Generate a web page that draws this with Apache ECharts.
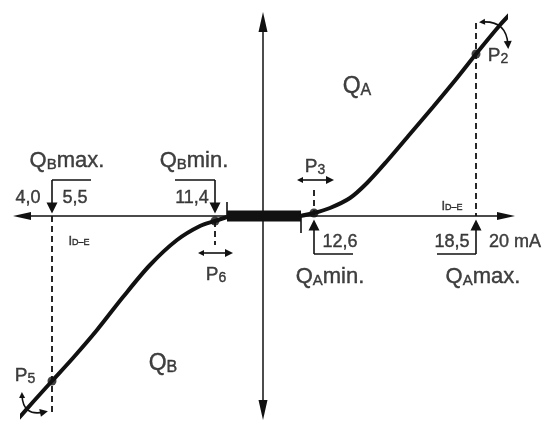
<!DOCTYPE html>
<html>
<head>
<meta charset="utf-8">
<script src="https://cdn.jsdelivr.net/npm/echarts@6/dist/echarts.min.js"></script>
<style>
html, body { margin: 0; padding: 0; background: #fff; }
#main { width: 558px; height: 421px; }
</style>
</head>
<body>
<div id="main"></div>
<script>
// diagram units: 1 unit = 1 px, origin where the two axes cross
var curveLeft = [[-245,-203],[-230,-186],[-211,-165],[-190,-142],[-166,-114],[-140,-81],[-113,-49],[-86,-24],[-63,-10],[-48,-5],[-36,-1]];
var curveRight = [[37,0],[51,3],[67,8],[87,18],[104,33],[124,55],[147,82],[170,109],[194,138],[213,162],[237,191],[250,205]];
var deadBand = [[-36,0],[38,0]];
var pointPts = [[213,162],[51,3],[-211,-165],[-48,-5]];
var dashLines = [[[-211,0],[-211,-196]], [[213,193],[213,0]], [[51,26],[51,3]], [[-48,-5],[-48,-29]]];
var bracketLines = [[[-172,36],[-211,36]], [[-88,36],[-48,36]], [[90,-38],[51,-38]], [[174,-38],[213,-38]],
                    [[-36,0],[-36,14]], [[38,0],[38,-17]]];
var arrowLines = [[[-211,36],[-211,8]], [[-48,36],[-48,8]], [[51,-38],[51,-9]], [[213,-38],[213,-9]]];
var shiftArrows = [[[37,36],[67,36]], [[-62,-37],[-34,-37]]];
var turnP2 = [[219,194],[245,171]];
var turnP5 = [[-241,-179],[-219,-196]];
var labelPos = [[-196,55],[-69,55],[-235,18],[-188,18],[-71,18],[77,-26],[189,-26],[252,-26],[67,-61],[220,-61],
                [94,129],[-100,-148],[235,160],[52,49],[-238,-160],[-47,-59],[189,10],[-184,-25]];
var labelText = ['{q|Q}{qs|B}{q|max.}','{q|Q}{qs|B}{q|min.}','{n|4,0}','{n|5,5}','{n|11,4}','{n|12,6}','{n|18,5}','{n|20 mA}',
                 '{q|Q}{qs|A}{q|min.}','{q|Q}{qs|A}{q|max.}','{b|Q}{bs|A}','{b|Q}{bs|B}','{p|P}{ps|2}','{p|P}{ps|3}','{p|P}{ps|5}','{p|P}{ps|6}',
                 '{i|I}{is|D–E}','{i|I}{is|D–E}'];

var ink = '#111';
var chart = echarts.init(document.getElementById('main'));

function segs(list) {
  return list.map(function (s) { return { coords: s }; });
}

var labelData = labelPos.map(function (p, i) {
  return { value: p, name: labelText[i] };
});

// slight outline so the thin sans strokes look like the printed lettering
function txt(size, lh, sub) {
  var s = { fontSize: size, lineHeight: lh, color: ink, textBorderColor: ink, textBorderWidth: 0.4 };
  if (sub) s.verticalAlign = 'bottom';
  return s;
}

var option = {
  animation: false,
  grid: { left: 22, right: 52, top: 22, bottom: 11 },
  xAxis: {
    type: 'value', min: -241, max: 243,
    axisLine: { onZero: true, symbol: ['triangle', 'triangle'], symbolSize: [8, 18], lineStyle: { color: ink, width: 1.5 } },
    axisTick: { show: false }, axisLabel: { show: false }, splitLine: { show: false }
  },
  yAxis: {
    type: 'value', min: -194, max: 194,
    axisLine: { onZero: true, symbol: ['triangle', 'triangle'], symbolSize: [9, 20], lineStyle: { color: ink, width: 1.5 } },
    axisTick: { show: false }, axisLabel: { show: false }, splitLine: { show: false }
  },
  series: [{
    type: 'line', data: deadBand, symbol: 'none', silent: true,
    lineStyle: { color: ink, width: 11, cap: 'butt' }
  }, {
    type: 'line', data: curveLeft, symbol: 'none', smooth: 0.3, clip: false, silent: true,
    lineStyle: { color: ink, width: 4 }
  }, {
    type: 'line', data: curveRight, symbol: 'none', smooth: 0.3, clip: false, silent: true,
    lineStyle: { color: ink, width: 4 }
  }, {
    type: 'lines', coordinateSystem: 'cartesian2d', data: segs(dashLines), silent: true, clip: false,
    lineStyle: { color: ink, width: 1.8, type: [6, 4], opacity: 1 }
  }, {
    type: 'lines', coordinateSystem: 'cartesian2d', data: segs(bracketLines), silent: true, clip: false,
    lineStyle: { color: ink, width: 1.6, opacity: 1 }
  }, {
    type: 'lines', coordinateSystem: 'cartesian2d', data: segs(arrowLines), silent: true, clip: false,
    symbol: ['none', 'triangle'], symbolSize: [7, 11],
    lineStyle: { color: ink, width: 1.6, opacity: 1 }
  }, {
    type: 'lines', coordinateSystem: 'cartesian2d', data: segs(shiftArrows), silent: true, clip: false,
    symbol: ['triangle', 'triangle'], symbolSize: [6, 8],
    lineStyle: { color: ink, width: 1.6, opacity: 1 }
  }, {
    type: 'lines', coordinateSystem: 'cartesian2d', data: segs([turnP2]), silent: true, clip: false,
    symbol: ['triangle', 'triangle'], symbolSize: [6, 8],
    lineStyle: { color: ink, width: 1.6, opacity: 1, curveness: 0.5 }
  }, {
    type: 'lines', coordinateSystem: 'cartesian2d', data: segs([turnP5]), silent: true, clip: false,
    symbol: ['triangle', 'triangle'], symbolSize: [6, 8],
    lineStyle: { color: ink, width: 1.6, opacity: 1, curveness: -0.6 }
  }, {
    type: 'scatter', data: pointPts, symbolSize: 9, clip: false, silent: true,
    itemStyle: { color: ink }
  }, {
    type: 'scatter', data: labelData, symbolSize: 0, clip: false, silent: true,
    label: {
      show: true, position: 'inside', formatter: '{b}', color: ink,
      fontFamily: 'Liberation Sans, Arial, sans-serif',
      rich: {
        q: txt(22, 23), qs: txt(15, 15, true),
        b: txt(23, 24), bs: txt(16, 16, true),
        n: txt(18, 18),
        p: txt(19, 20), ps: txt(14, 14, true),
        i: txt(13, 13), is: txt(9, 9, true)
      }
    }
  }]
};

chart.setOption(option);
window.addEventListener('resize', function () {
  chart.resize();
});
</script>
</body>
</html>
